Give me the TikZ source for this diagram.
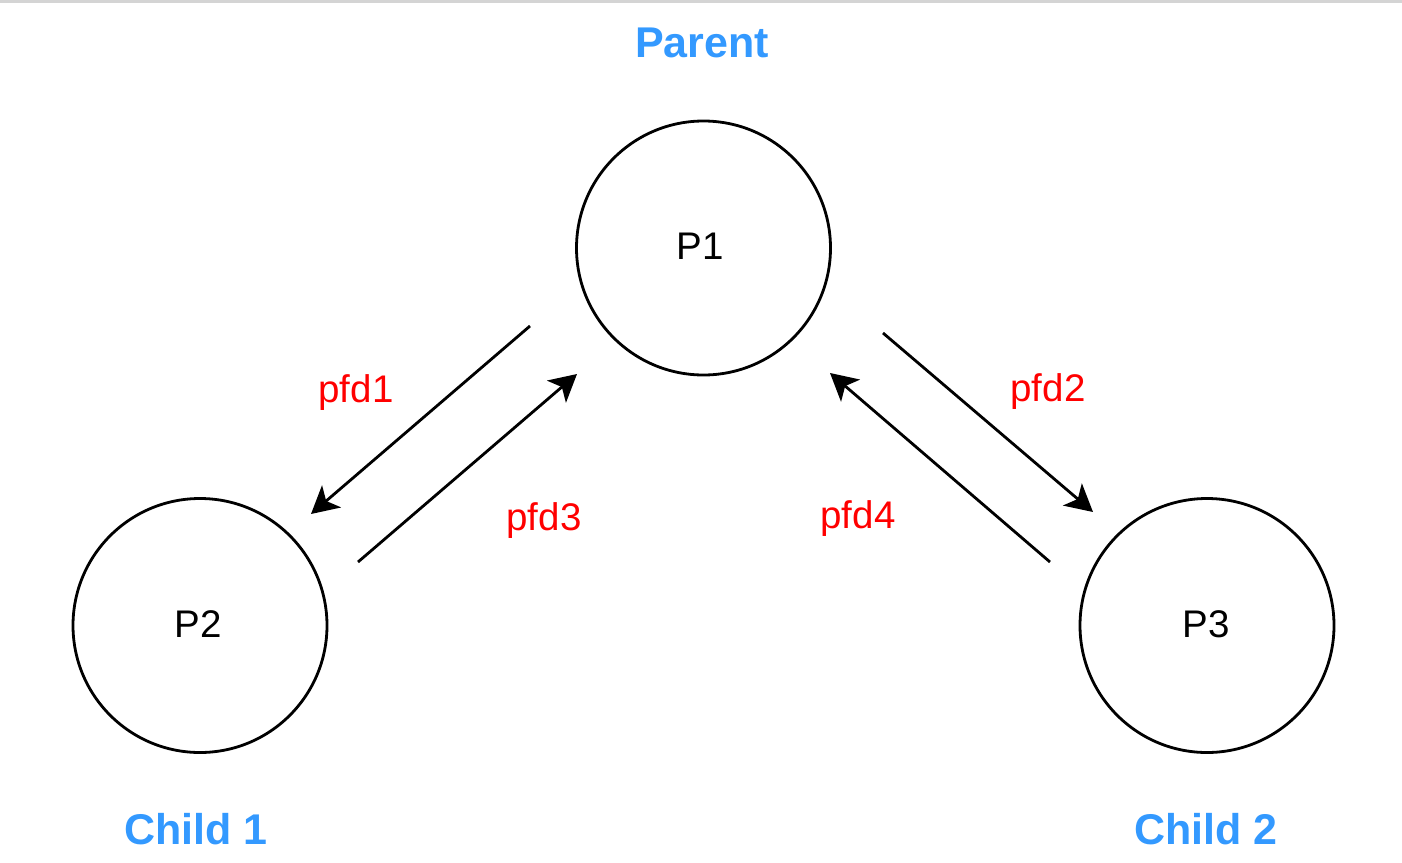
\documentclass[tikz,border=0pt]{standalone}
\usepackage{fontspec}
\setmainfont{Liberation Sans}
\usetikzlibrary{arrows.meta}
\definecolor{lblblue}{HTML}{3399FF}
\definecolor{topgray}{HTML}{D4D4D4}
\tikzset{
  proc/.style={circle, draw=black, line width=2.8pt, minimum size=254pt, inner sep=0pt},
  ptext/.style={font=\fontsize{38.5pt}{44pt}\selectfont, anchor=base, inner sep=0pt, text=black},
  pfdtext/.style={font=\fontsize{38.5pt}{44pt}\selectfont, anchor=base, inner sep=0pt, text=red},
  roletext/.style={font=\fontsize{43pt}{48pt}\selectfont\bfseries, anchor=base, inner sep=0pt, text=lblblue},
  pipe/.style={line width=2.8pt, -{Stealth[length=27pt, width=29pt, inset=7pt]}}
}
\begin{document}
\begin{tikzpicture}[x=1pt, y=-1pt]
\useasboundingbox (0,0) rectangle (1402,862);
\fill[topgray] (0,0) rectangle (1402,2.5);

% processes
\node[proc] (p1) at (703.5,248) {};
\node[proc] (p2) at (200,625.5) {};
\node[proc] (p3) at (1207,625.5) {};
\node[ptext] (t1) at (700,259) {P1};
\node[ptext] (t2) at (198,637) {P2};
\node[ptext] (t3) at (1206,637) {P3};

% role labels
\node[roletext] (parent) at (702,57) {Parent};
\node[roletext] (child1) at (196,844) {Child 1};
\node[roletext] (child2) at (1206,844) {Child 2};

% pipe ends
\coordinate (a1s) at (530,326);
\coordinate (a1e) at (311,514);
\coordinate (a3s) at (358,562);
\coordinate (a3e) at (577,374);
\coordinate (a2s) at (883,333);
\coordinate (a2e) at (1093,512);
\coordinate (a4s) at (1050,562);
\coordinate (a4e) at (830,373);

\draw[pipe] (a1s) -- (a1e);
\draw[pipe] (a3s) -- (a3e);
\draw[pipe] (a2s) -- (a2e);
\draw[pipe] (a4s) -- (a4e);

% pipe labels
\node[pfdtext] (l1) at (356,402) {pfd1};
\node[pfdtext] (l2) at (1048,401) {pfd2};
\node[pfdtext] (l3) at (544,530) {pfd3};
\node[pfdtext] (l4) at (858,528) {pfd4};
\end{tikzpicture}
\end{document}
